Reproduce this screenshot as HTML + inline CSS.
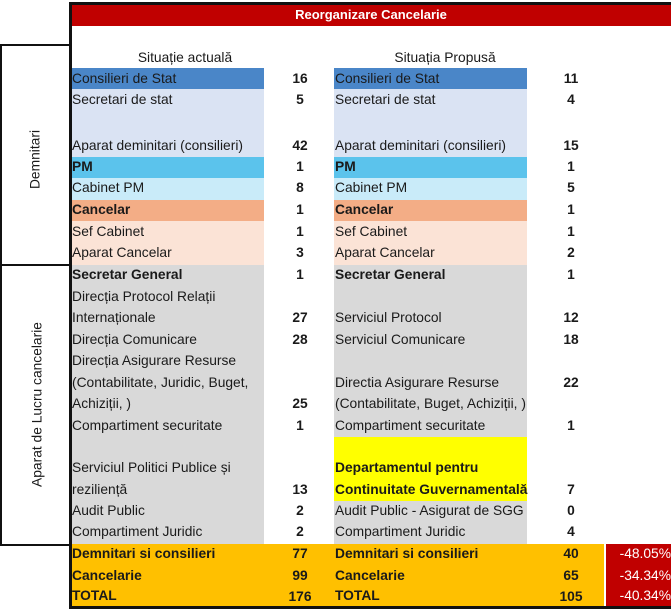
<!DOCTYPE html>
<html><head><meta charset="utf-8"><style>
body{margin:0;width:671px;height:615px;background:#fff;position:relative;overflow:hidden;font-family:"Liberation Sans",sans-serif;font-size:13.8px;color:#1a1a1a}
div{position:absolute;box-sizing:border-box}
.t{white-space:nowrap;line-height:15px;margin-top:-1px}
.b{font-weight:bold}
.n{font-weight:bold;text-align:center;width:40px}
</style></head><body>
<div style="left:71px;top:4px;width:600px;height:22px;background:#c00000"></div>
<div style="left:71px;top:8px;width:600px;text-align:center;color:#fff;font-weight:bold;font-size:13px" class="t">Reorganizare Cancelarie</div>

<div style="left:71px;top:68px;width:193px;height:21px;background:#4a86c8"></div>
<div style="left:334px;top:68px;width:193px;height:21px;background:#4a86c8"></div>
<div style="left:71px;top:89px;width:193px;height:68px;background:#dae3f3"></div>
<div style="left:334px;top:89px;width:193px;height:68px;background:#dae3f3"></div>
<div style="left:71px;top:157px;width:193px;height:21px;background:#5bc3ec"></div>
<div style="left:334px;top:157px;width:193px;height:21px;background:#5bc3ec"></div>
<div style="left:71px;top:178px;width:193px;height:22px;background:#c9ebf9"></div>
<div style="left:334px;top:178px;width:193px;height:22px;background:#c9ebf9"></div>
<div style="left:71px;top:200px;width:193px;height:21px;background:#f3ad86"></div>
<div style="left:334px;top:200px;width:193px;height:21px;background:#f3ad86"></div>
<div style="left:71px;top:221px;width:193px;height:44px;background:#fbe3d6"></div>
<div style="left:334px;top:221px;width:193px;height:44px;background:#fbe3d6"></div>
<div style="left:71px;top:265px;width:193px;height:279px;background:#d9d9d9"></div>
<div style="left:334px;top:265px;width:193px;height:279px;background:#d9d9d9"></div>
<div style="left:334px;top:437px;width:193px;height:64px;background:#ffff00"></div>
<div style="left:71px;top:544px;width:533px;height:63px;background:#ffc000"></div>
<div style="left:606px;top:544px;width:65px;height:63px;background:#c00000"></div>

<div style="left:69px;top:2px;width:3px;height:607px;background:#111"></div>
<div style="left:69px;top:2px;width:602px;height:3px;background:#111"></div>
<div style="left:69px;top:606px;width:602px;height:3px;background:#111"></div>
<div style="left:0px;top:44px;width:72px;height:502px;border:2px solid #111;border-right:none"></div>
<div style="left:0px;top:264px;width:72px;height:2px;background:#111"></div>

<div class="t" style="left:-40px;top:153px;width:150px;text-align:center;transform:rotate(-90deg)">Demnitari</div>
<div class="t" style="left:-63px;top:398px;width:200px;text-align:center;transform:rotate(-90deg)">Aparat de Lucru cancelarie</div>

<div class="t" style="left:100px;top:51px;width:170px;text-align:center">Situație actuală</div>
<div class="t" style="left:360px;top:51px;width:170px;text-align:center">Situația Propusă</div>

<div class="t" style="left:72px;top:72px">Consilieri de Stat</div>
<div class="t" style="left:72px;top:93px">Secretari de stat</div>
<div class="t" style="left:72px;top:139px">Aparat deminitari (consilieri)</div>
<div class="t b" style="left:72px;top:160px">PM</div>
<div class="t" style="left:72px;top:181px">Cabinet PM</div>
<div class="t b" style="left:72px;top:203px">Cancelar</div>
<div class="t" style="left:72px;top:225px">Sef Cabinet</div>
<div class="t" style="left:72px;top:246px">Aparat Cancelar</div>
<div class="t b" style="left:72px;top:268px">Secretar General</div>
<div class="t" style="left:72px;top:290px">Direcția Protocol Relații</div>
<div class="t" style="left:72px;top:311px">Internaționale</div>
<div class="t" style="left:72px;top:333px">Direcția Comunicare</div>
<div class="t" style="left:72px;top:354px">Direcția Asigurare Resurse</div>
<div class="t" style="left:72px;top:376px">(Contabilitate, Juridic, Buget,</div>
<div class="t" style="left:72px;top:397px">Achiziții, )</div>
<div class="t" style="left:72px;top:419px">Compartiment securitate</div>
<div class="t" style="left:72px;top:461px">Serviciul Politici Publice și</div>
<div class="t" style="left:72px;top:483px">reziliență</div>
<div class="t" style="left:72px;top:504px">Audit Public</div>
<div class="t" style="left:72px;top:525px">Compartiment Juridic</div>
<div class="t b" style="left:72px;top:547px">Demnitari si consilieri</div>
<div class="t b" style="left:72px;top:569px">Cancelarie</div>
<div class="t b" style="left:72px;top:589px">TOTAL</div>

<div class="t n" style="left:280px;top:72px">16</div>
<div class="t n" style="left:280px;top:93px">5</div>
<div class="t n" style="left:280px;top:139px">42</div>
<div class="t n" style="left:280px;top:160px">1</div>
<div class="t n" style="left:280px;top:181px">8</div>
<div class="t n" style="left:280px;top:203px">1</div>
<div class="t n" style="left:280px;top:225px">1</div>
<div class="t n" style="left:280px;top:246px">3</div>
<div class="t n" style="left:280px;top:268px">1</div>
<div class="t n" style="left:280px;top:311px">27</div>
<div class="t n" style="left:280px;top:333px">28</div>
<div class="t n" style="left:280px;top:397px">25</div>
<div class="t n" style="left:280px;top:419px">1</div>
<div class="t n" style="left:280px;top:483px">13</div>
<div class="t n" style="left:280px;top:504px">2</div>
<div class="t n" style="left:280px;top:525px">2</div>
<div class="t n" style="left:280px;top:547px">77</div>
<div class="t n" style="left:280px;top:569px">99</div>
<div class="t n" style="left:280px;top:590px">176</div>

<div class="t" style="left:335px;top:72px">Consilieri de Stat</div>
<div class="t" style="left:335px;top:93px">Secretari de stat</div>
<div class="t" style="left:335px;top:139px">Aparat deminitari (consilieri)</div>
<div class="t b" style="left:335px;top:160px">PM</div>
<div class="t" style="left:335px;top:181px">Cabinet PM</div>
<div class="t b" style="left:335px;top:203px">Cancelar</div>
<div class="t" style="left:335px;top:225px">Sef Cabinet</div>
<div class="t" style="left:335px;top:246px">Aparat Cancelar</div>
<div class="t b" style="left:335px;top:268px">Secretar General</div>
<div class="t" style="left:335px;top:311px">Serviciul Protocol</div>
<div class="t" style="left:335px;top:333px">Serviciul Comunicare</div>
<div class="t" style="left:335px;top:376px">Directia Asigurare Resurse</div>
<div class="t" style="left:335px;top:397px">(Contabilitate, Buget, Achiziții, )</div>
<div class="t" style="left:335px;top:419px">Compartiment securitate</div>
<div class="t b" style="left:335px;top:461px">Departamentul pentru</div>
<div class="t b" style="left:335px;top:483px">Continuitate Guvernamentală</div>
<div class="t" style="left:335px;top:504px">Audit Public - Asigurat de SGG</div>
<div class="t" style="left:335px;top:525px">Compartiment Juridic</div>
<div class="t b" style="left:335px;top:547px">Demnitari si consilieri</div>
<div class="t b" style="left:335px;top:569px">Cancelarie</div>
<div class="t b" style="left:335px;top:589px">TOTAL</div>

<div class="t n" style="left:551px;top:72px">11</div>
<div class="t n" style="left:551px;top:93px">4</div>
<div class="t n" style="left:551px;top:139px">15</div>
<div class="t n" style="left:551px;top:160px">1</div>
<div class="t n" style="left:551px;top:181px">5</div>
<div class="t n" style="left:551px;top:203px">1</div>
<div class="t n" style="left:551px;top:225px">1</div>
<div class="t n" style="left:551px;top:246px">2</div>
<div class="t n" style="left:551px;top:268px">1</div>
<div class="t n" style="left:551px;top:311px">12</div>
<div class="t n" style="left:551px;top:333px">18</div>
<div class="t n" style="left:551px;top:376px">22</div>
<div class="t n" style="left:551px;top:419px">1</div>
<div class="t n" style="left:551px;top:483px">7</div>
<div class="t n" style="left:551px;top:504px">0</div>
<div class="t n" style="left:551px;top:525px">4</div>
<div class="t n" style="left:551px;top:547px">40</div>
<div class="t n" style="left:551px;top:569px">65</div>
<div class="t n" style="left:551px;top:590px">105</div>

<div class="t" style="left:606px;top:547px;width:65px;text-align:right;color:#fff">-48.05%</div>
<div class="t" style="left:606px;top:569px;width:65px;text-align:right;color:#fff">-34.34%</div>
<div class="t" style="left:606px;top:589px;width:65px;text-align:right;color:#fff">-40.34%</div>
</body></html>
